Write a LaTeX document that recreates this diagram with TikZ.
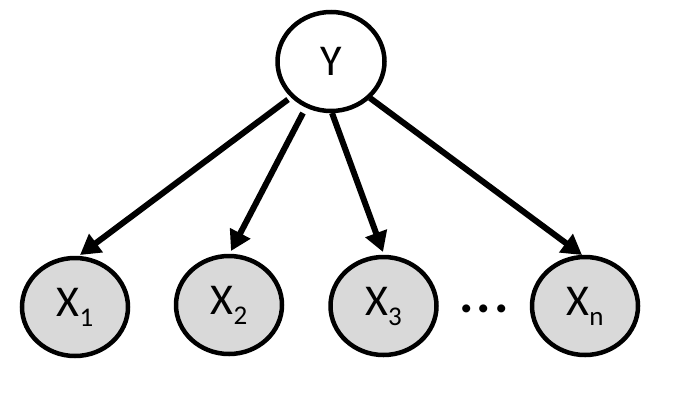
\documentclass[tikz,border=0pt]{standalone}
\usepackage{fontspec}
\setmainfont{Carlito}
\usetikzlibrary{shapes.geometric,arrows.meta,calc}
\tikzset{
  var/.style={ellipse,draw=black,line width=4.5pt,inner sep=0pt,minimum width=106pt,minimum height=98pt,font=\fontsize{44}{44}\selectfont},
  obs/.style={var,fill=gray!30},
  edge/.style={line width=6pt,-{Triangle[length=20pt,width=22pt]}}
}
\newcommand{\sub}[1]{\raisebox{-10pt}{\fontsize{27}{27}\selectfont #1}}
\begin{document}
\begin{tikzpicture}[x=1pt,y=-1pt]
\useasboundingbox[fill=white] (0,0) rectangle (692,402);
\node[var,minimum width=107pt,minimum height=99pt] (Y) at (331,61.5) {Y};
\node[obs] (X1) at (75,307) {X\sub{1}};
\node[obs] (X2) at (229,305) {X\sub{2}};
\node[obs] (X3) at (383.5,306) {X\sub{3}};
\node[obs] (Xn) at (585,306) {X\sub{n}};
\node[font=\bfseries\fontsize{54}{54}\selectfont] (dots) at (484,309) {.\hspace{3pt}.\hspace{3pt}.};
\draw[edge] ($(Y.center)+(-43,38)$) -- ($(X1.center)+(5,-52)$);
\draw[edge] ($(Y.center)+(-28,51.5)$) -- ($(X2.center)+(2,-54)$);
\draw[edge] ($(Y.center)+(1,51.5)$) -- ($(X3.center)+(-0.5,-54)$);
\draw[edge] ($(Y.center)+(39,36.5)$) -- ($(Xn.center)+(-3,-51)$);
\end{tikzpicture}
\end{document}
